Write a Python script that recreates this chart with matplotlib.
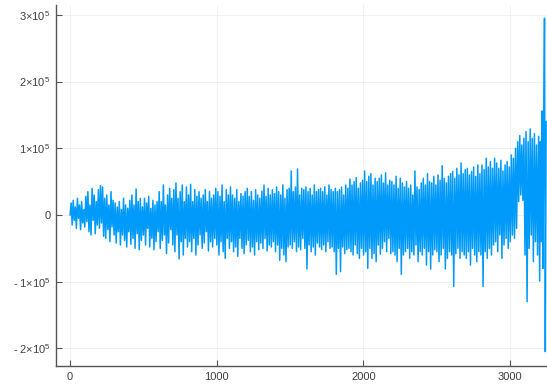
import numpy as np
import matplotlib
matplotlib.use("Agg")
import matplotlib.pyplot as plt

plt.rcParams['font.family'] = ['Liberation Sans', 'DejaVu Sans']
plt.rcParams['mathtext.fontset'] = 'custom'
plt.rcParams['mathtext.rm'] = 'Liberation Sans'
plt.rcParams['mathtext.it'] = 'Liberation Sans'

# series values in thousands (segments of 100 samples, 14 values each)
seg_a = [0, 18, -15, 22, -8, 12, -20, 25, -5, 15, -22, 20, -12, 8,
         -18, 28, -10, 35, -25, 15, -30, 40, -8, 30, -28, 20, -15, 38,
         -20, 44, -12, 42, -32, 25, -35, 30, -22, 15, -40, 35, -18, 22,
         -30, 18, -42, 12, -25, 20, -45, 8, -30, 25, -38, 15, -48, 10,
         -25, 22, -44, 30, -35, 15, -50, 39, -28, 20, -52, 25, -38, 12,
         -30, 25, -45, 18, -20, 28, -48, 10, -35, 22, -52, 15, -40, 20,
         -25, 35, -50, 20, -38, 45, -30, 15, -58, 30, -42, 40, -22, 25,
         -45, 38, -55, 48, -30, 25, -66, 35, -40, 45, -60, 20, -35, 42]
seg_b = [-48, 30, -40, 46, -55, 20, -35, 38, -60, 28, -45, 35, -30, 25,
         -50, 30, -42, 38, -25, 20, -54, 35, -40, 25, -48, 30, -35, 40,
         -45, 35, -60, 28, -40, 45, -55, 20, -65, 38, -35, 30, -50, 42,
         -40, 30, -55, 25, -48, 38, -62, 20, -35, 32, -50, 28, -58, 35,
         -45, 40, -38, 28, -55, 35, -48, 22, -60, 38, -40, 30, -52, 25,
         -42, 36, -50, 45, -35, 28, -54, 40, -45, 30, -48, 38, -40, 32,
         -55, 42, -45, 35, -68, 30, -50, 45, -60, 25, -70, 38, -48, 40,
         -45, 66, -50, 35, -40, 42, -55, 69, -48, 30, -52, 40, -35, 38]
seg_c = [-50, 42, -81, 35, -45, 40, -55, 30, -48, 45, -60, 35, -42, 38,
         -48, 40, -52, 35, -45, 42, -55, 30, -40, 45, -50, 38, -48, 35,
         -55, 40, -89, 35, -50, 38, -85, 42, -48, 30, -58, 45, -52, 40,
         -50, 54, -55, 45, -60, 50, -45, 56, -58, 40, -65, 48, -50, 52,
         -60, 66, -55, 50, -80, 58, -50, 62, -65, 45, -58, 55, -70, 50,
         -45, 55, -59, 60, -50, 48, -40, 63, -55, 45, -35, 52, -58, 50,
         -55, 45, -60, 58, -70, 40, -50, 55, -89, 48, -60, 42, -55, 50,
         -50, 40, -65, 45, -55, 30, -60, 66, -45, 42, -70, 38, -55, 48]
seg_d = [-60, 55, -50, 45, -75, 62, -55, 50, -81, 48, -60, 58, -52, 45,
         -55, 60, -70, 52, -60, 74, -50, 55, -81, 48, -65, 58, -55, 62,
         -60, 65, -107, 55, -58, 70, -50, 60, -65, 78, -55, 62, -60, 68,
         -65, 70, -55, 60, -75, 65, -50, 72, -60, 58, -70, 75, -55, 62,
         -60, 75, -107, 68, -55, 85, -65, 72, -50, 80, -60, 70, -45, 85,
         -40, 78, -55, 70, -30, 82, -65, 66, -45, 75, -35, 80, -50, 72,
         -40, 90, -30, 85, -35, 100, -20, 110, 20, 119, 30, 105, 22, 115,
         -60, 125, -130, 110, -50, 129, -30, 115, -70, 122, -40, 105, -60, 118]
seg_end = [-99, 110, -40, 156, -80, 130, 295, -205, 140]

seg_len = 100
per_seg = 14
n_last = 3245
y_ticks = [-2e5, -1e5, 0, 1e5, 2e5, 3e5]
y_ticklabels = ['- 2×10$^{5}$', '- 1×10$^{5}$', '0', '1×10$^{5}$', '2×10$^{5}$', '3×10$^{5}$']
x_ticks = [0, 1000, 2000, 3000]
x_ticklabels = ['0', '1000', '2000', '3000']

body = np.array(seg_a + seg_b + seg_c + seg_d, dtype=float) * 1000
tail = np.array(seg_end, dtype=float) * 1000
n_seg = len(body) // per_seg
x_body = np.concatenate([np.linspace(1 + i * seg_len, 1 + (i + 1) * seg_len, per_seg, endpoint=False)
                         for i in range(n_seg)])
x_tail = np.linspace(1 + n_seg * seg_len, n_last, len(tail))
x = np.concatenate([x_body, x_tail])
values = np.concatenate([body, tail])

fig = plt.figure(figsize=(5.47, 3.87), dpi=100)
ax = fig.add_axes([56/547, 21/387, 1 - 56/547, 361/387])
ax.plot(x, values, color='#009AFA', lw=1.1)

ax.set_xlim(-95, 3251)
ax.set_ylim(-2.264e5, 3.148e5)
ax.set_yticks(y_ticks)
ax.set_yticklabels(y_ticklabels)
ax.set_xticks(x_ticks)
ax.set_xticklabels(x_ticklabels)

ax.grid(True, color='black', alpha=0.07, lw=0.6)
for s in ['top', 'right']:
    ax.spines[s].set_visible(False)
for s in ['left', 'bottom']:
    ax.spines[s].set_color('#555555')
    ax.spines[s].set_linewidth(1.0)
ax.tick_params(direction='in', length=4, width=0.8, color='#555555',
               labelsize=8, labelcolor='#404040', pad=4)

fig.savefig('out.png', dpi=100)
